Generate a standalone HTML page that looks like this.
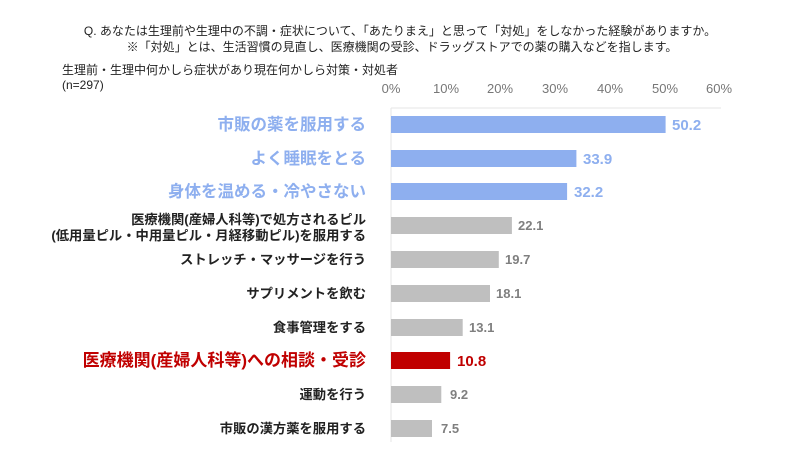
<!DOCTYPE html>
<html><head><meta charset="utf-8"><style>
body{margin:0;background:#fff;width:800px;height:450px;overflow:hidden}
svg{font-family:"Liberation Sans","Noto Sans CJK JP",sans-serif}
</style></head><body>
<svg width="800" height="450" viewBox="0 0 800 450">
<text x="400" y="35" font-size="12" text-anchor="middle" fill="#222">Q. あなたは生理前や生理中の不調・症状について、「あたりまえ」と思って「対処」をしなかった経験がありますか。</text>
<text x="402" y="51" font-size="12" text-anchor="middle" fill="#222">※「対処」とは、生活習慣の見直し、医療機関の受診、ドラッグストアでの薬の購入などを指します。</text>
<text x="62" y="74" font-size="12" fill="#222">生理前・生理中何かしら症状があり現在何かしら対策・対処者</text>
<text x="62" y="89" font-size="12" fill="#222">(n=297)</text>
<g font-size="13" fill="#777" text-anchor="middle">
<text x="391" y="93">0%</text><text x="446" y="93">10%</text><text x="500" y="93">20%</text><text x="555" y="93">30%</text><text x="610" y="93">40%</text><text x="665" y="93">50%</text><text x="719" y="93">60%</text>
</g>
<line x1="391" y1="108" x2="721" y2="108" stroke="#e6e6e6"/>
<line x1="391" y1="108" x2="391" y2="442" stroke="#e6e6e6"/>
<g>
<rect x="391" y="116" width="274.6" height="17" fill="#8eafef"/>
<rect x="391" y="150" width="185.4" height="17" fill="#8eafef"/>
<rect x="391" y="183" width="176.1" height="17" fill="#8eafef"/>
<rect x="391" y="217" width="120.9" height="17" fill="#bfbfbf"/>
<rect x="391" y="251" width="107.8" height="17" fill="#bfbfbf"/>
<rect x="391" y="285" width="99" height="17" fill="#bfbfbf"/>
<rect x="391" y="319" width="71.7" height="17" fill="#bfbfbf"/>
<rect x="391" y="352" width="59.1" height="17" fill="#c00000"/>
<rect x="391" y="386" width="50.3" height="17" fill="#bfbfbf"/>
<rect x="391" y="420" width="41" height="17" fill="#bfbfbf"/>
</g>
<g font-weight="bold" font-size="15" fill="#8eafef">
<text x="672" y="130">50.2</text><text x="583" y="164">33.9</text><text x="574" y="197">32.2</text>
</g>
<g font-weight="bold" font-size="13" fill="#7f7f7f">
<text x="518" y="230">22.1</text><text x="505" y="264">19.7</text><text x="496" y="298">18.1</text><text x="469" y="332">13.1</text><text x="450" y="399">9.2</text><text x="441" y="433">7.5</text>
</g>
<text x="457" y="366" font-weight="bold" font-size="15" fill="#c00000">10.8</text>
<g text-anchor="end" font-weight="bold">
<g font-size="16.5" fill="#8eafef">
<text x="366" y="130">市販の薬を服用する</text><text x="366" y="164">よく睡眠をとる</text><text x="366" y="197">身体を温める・冷やさない</text>
</g>
<g font-size="13.3" fill="#222">
<text x="366" y="224">医療機関(産婦人科等)で処方されるピル</text>
<text x="366" y="240">(低用量ピル・中用量ピル・月経移動ピル)を服用する</text>
<text x="366" y="264">ストレッチ・マッサージを行う</text>
<text x="366" y="298">サプリメントを飲む</text>
<text x="366" y="332">食事管理をする</text>
<text x="366" y="399">運動を行う</text>
<text x="366" y="433">市販の漢方薬を服用する</text>
</g>
<text x="366" y="366" font-size="17" fill="#c00000">医療機関(産婦人科等)への相談・受診</text>
</g>
</svg>
</body></html>
